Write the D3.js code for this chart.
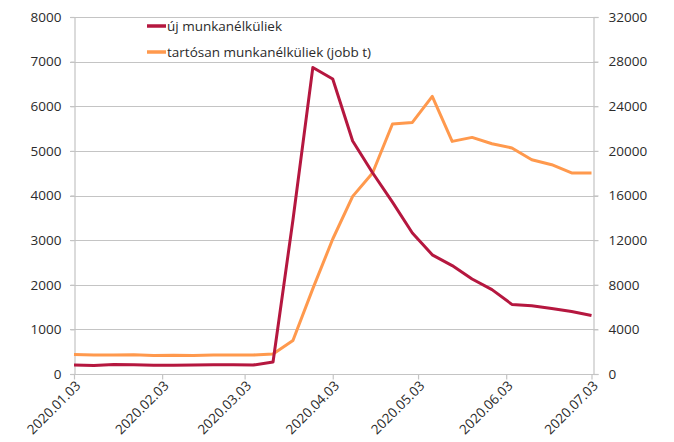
<!DOCTYPE html>
<html>
<head>
<meta charset="utf-8">
<script src="https://cdn.jsdelivr.net/npm/d3@7"></script>
<style>
  html, body { margin: 0; padding: 0; background: #fff; }
  svg { display: block; font-family: "Open Sans", sans-serif; }
</style>
</head>
<body>
<svg id="chart" width="674" height="442"></svg>
<script>
// ---- data ----
const dates = ["2020-01-03","2020-01-10","2020-01-17","2020-01-24","2020-01-31","2020-02-07","2020-02-14","2020-02-21","2020-02-28","2020-03-06","2020-03-13","2020-03-20","2020-03-27","2020-04-03","2020-04-10","2020-04-17","2020-04-24","2020-05-01","2020-05-08","2020-05-15","2020-05-22","2020-05-29","2020-06-05","2020-06-12","2020-06-19","2020-06-26","2020-07-03"];
const ujMunkanelkuliek = [200,190,215,210,195,195,200,210,205,200,270,3450,6870,6610,5220,4510,3850,3160,2670,2430,2130,1890,1560,1530,1470,1400,1310];
const tartosan = [1750,1700,1700,1720,1650,1680,1650,1700,1700,1700,1800,3010,7650,12100,15920,18020,22410,22550,24880,20850,21210,20640,20260,19210,18760,18020,18020];
const xTickLabels = ["2020.01.03","2020.02.03","2020.03.03","2020.04.03","2020.05.03","2020.06.03","2020.07.03"];
const leftTicks = [0,1000,2000,3000,4000,5000,6000,7000,8000];
const rightTicks = [0,4000,8000,12000,16000,20000,24000,28000,32000];
const seriesNames = ["új munkanélküliek","tartósan munkanélküliek (jobb t)"];

(function () {
// ---- layout ----
const svg = d3.select("#chart");
const pLeft = 74, pRight = 593, pTop = 17, pBottom = 374;
const parse = d3.timeParse("%Y-%m-%d");
const parseTick = d3.timeParse("%Y.%m.%d");
const x = d3.scaleTime().domain([parse(dates[0]), parse(dates[dates.length-1])]).range([pLeft, pRight - 1.5]);
const yL = d3.scaleLinear().domain([0, 8000]).range([pBottom, pTop]);
const yR = d3.scaleLinear().domain([0, 32000]).range([pBottom, pTop]);
const red = "#b5173f", orange = "#ff994d", gridCol = "#c4c4c4", textCol = "#2b2b2b";

// gridlines
svg.append("g").selectAll("line").data(leftTicks.slice(1)).join("line")
  .attr("x1", pLeft - 4).attr("x2", pRight + 5)
  .attr("y1", d => Math.round(yL(d)) + 0.5).attr("y2", d => Math.round(yL(d)) + 0.5)
  .attr("stroke", gridCol).attr("stroke-width", 1.2);

// left axis
const gL = svg.append("g").attr("transform", `translate(${pLeft + 0.5},0)`)
  .call(d3.axisLeft(yL).tickValues(leftTicks).tickSize(4).tickPadding(9).tickFormat(d3.format("d")));
// right axis
const gR = svg.append("g").attr("transform", `translate(${pRight + 0.5},0)`)
  .call(d3.axisRight(yR).tickValues(rightTicks).tickSize(5).tickPadding(10).tickFormat(d3.format("d")));
// bottom axis
const gB = svg.append("g").attr("transform", `translate(0,${pBottom + 0.5})`)
  .call(d3.axisBottom(x).tickValues(xTickLabels.map(parseTick)).tickSize(5).tickFormat(d3.timeFormat("%Y.%m.%d")));
gB.select(".domain").attr("d", `M${pLeft - 4},0H${pRight + 5}`);

[gL, gR, gB].forEach(g => {
  g.selectAll(".domain").attr("stroke", gridCol).attr("stroke-width", 1.2);
  g.selectAll(".tick line").attr("stroke", gridCol).attr("stroke-width", 1.2);
  g.selectAll("text").attr("fill", textCol).attr("font-size", 13.5).attr("font-family", "Open Sans, sans-serif");
});
gB.selectAll(".tick text")
  .attr("text-anchor", "end")
  .attr("y", 0).attr("dy", 0)
  .attr("transform", "translate(7,12) rotate(-45)");

// lines
const lineL = d3.line().x((d, i) => x(parse(dates[i]))).y(d => yL(d));
const lineR = d3.line().x((d, i) => x(parse(dates[i]))).y(d => yR(d));
svg.append("path").datum(tartosan).attr("d", lineR)
  .attr("fill", "none").attr("stroke", orange).attr("stroke-width", 3).attr("stroke-linejoin", "round");
svg.append("path").datum(ujMunkanelkuliek).attr("d", lineL)
  .attr("fill", "none").attr("stroke", red).attr("stroke-width", 3).attr("stroke-linejoin", "round");

// legend
const legend = svg.append("g");
const legColors = [red, orange];
seriesNames.forEach((name, i) => {
  const ly = 26 + i * 26;
  legend.append("line").attr("x1", 147).attr("x2", 166).attr("y1", ly).attr("y2", ly)
    .attr("stroke", legColors[i]).attr("stroke-width", 3.5);
  legend.append("text").attr("x", 167).attr("y", ly).attr("dy", "0.35em")
    .attr("fill", textCol).attr("font-size", 13.5).text(name);
});
})();
</script>
</body>
</html>
